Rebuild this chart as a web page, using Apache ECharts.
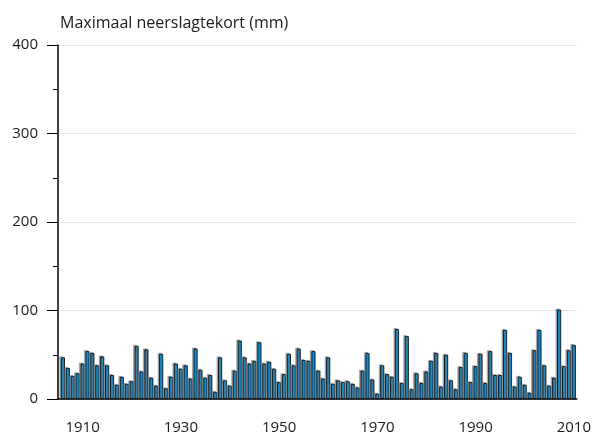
<!DOCTYPE html>
<html>
<head>
<meta charset="utf-8">
<script src="https://cdn.jsdelivr.net/npm/echarts@6/dist/echarts.min.js"></script>
<style>
  html, body { margin: 0; padding: 0; background: #fff; }
  #chart { width: 594px; height: 436px; }
</style>
</head>
<body>
<div id="chart"></div>
<script>
// jaren 1906 t/m 2010
const firstYear = 1906;
const tekort = [
  47, 35, 26, 29, 40, 54, 52, 38, 48, 38,
  27, 16, 25, 17, 20, 60, 31, 56, 24, 15,
  51, 12, 25, 40, 34, 38, 23, 57, 33, 24,
  27, 8, 47, 21, 15, 32, 66, 47, 40, 43,
  64, 40, 42, 34, 19, 28, 51, 38, 57, 44,
  43, 54, 32, 23, 47, 17, 21, 19, 20, 17,
  13, 32, 52, 22, 6, 38, 28, 25, 79, 18,
  71, 11, 29, 18, 31, 43, 52, 14, 50, 21,
  11, 36, 52, 19, 37, 51, 18, 54, 27, 27,
  78, 52, 14, 25, 16, 7, 55, 78, 38, 15,
  24, 101, 37, 55, 61
];
const labelYears = [1910, 1930, 1950, 1970, 1990, 2010];

const barData = tekort.map((v, i) => [firstYear + i, v]);

let chart = echarts.init(document.getElementById('chart'));

const option = {
    animation: false,
    title: {
        text: 'Maximaal neerslagtekort (mm)',
        left: 55,
        top: 10,
        textStyle: {
            fontFamily: 'Open Sans',
            fontSize: 16,
            fontWeight: 'normal',
            color: '#1a1a1a'
        }
    },
    grid: {
        left: 58,
        right: 17,
        top: 45,
        bottom: 37
    },
    xAxis: {
        type: 'value',
        min: 1905,
        max: 2010.6,
        interval: 5,
        axisLine: { show: true, onZero: false, lineStyle: { color: '#000', width: 1.5 } },
        axisTick: { show: false },
        splitLine: { show: false },
        axisLabel: {
            margin: 21,
            fontFamily: 'Open Sans',
            fontSize: 15,
            color: '#1a1a1a',
            formatter: function (v) {
                return labelYears.indexOf(v) >= 0 ? String(v) : '';
            }
        }
    },
    yAxis: {
        type: 'value',
        min: 0,
        max: 400,
        interval: 100,
        axisLine: { show: true, lineStyle: { color: '#000', width: 1.5 } },
        axisTick: { show: true, length: 11, lineStyle: { color: '#000' } },
        minorTick: { show: true, splitNumber: 2, length: 5, lineStyle: { color: '#000' } },
        splitLine: { show: true, lineStyle: { color: '#e6e6e6', width: 1 } },
        axisLabel: {
            margin: 20,
            fontFamily: 'Open Sans',
            fontSize: 15,
            color: '#1a1a1a'
        }
    },
    series: [
        {
            type: 'bar',
            data: barData,
            barWidth: 4,
            itemStyle: {
                color: '#0a86cc',
                borderColor: '#000',
                borderWidth: 0.8,
                shadowColor: 'rgba(120,120,120,0.6)',
                shadowBlur: 0,
                shadowOffsetX: -1.5,
                shadowOffsetY: -1
            }
        }
    ]
};

chart.setOption(option);
</script>
</body>
</html>
